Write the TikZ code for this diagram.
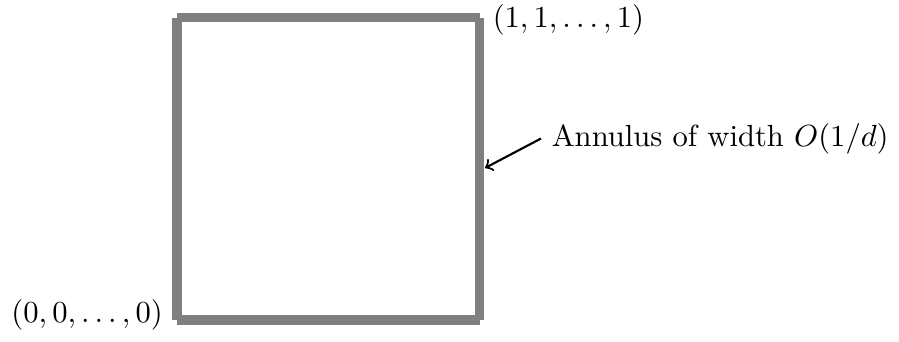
\documentclass[tikz,border=0pt]{standalone}
\begin{document}
\begin{tikzpicture}[x=0.327pt,y=-0.327pt,
  side/.style={draw=gray,line width=3pt,line cap=butt},
  lbl/.style={inner sep=0.3333em},
  pointer/.style={->,black,line width=0.7pt}]
\useasboundingbox (0,0) rectangle (899,341);
\coordinate (bl) at (177,320);
\coordinate (br) at (479.5,320);
\coordinate (tr) at (479.5,17.5);
\coordinate (tl) at (177,17.5);
\draw[side] (tl) -- (bl);
\draw[side] (tl) -- (tr);
\draw[side] (tr) -- (br);
\draw[side] (bl) -- (br);
\node[lbl,anchor=west] (one) at (482,19.5) {$(1,1,\ldots,1)$};
\node[lbl,anchor=east] (zero) at (173.5,314.5) {$(0,0,\ldots,0)$};
\node[lbl,anchor=west] (ann) at (541,138.5) {Annulus of width $O(1/d)$};
\coordinate (tip) at (485,168);
\draw[pointer] (ann.west) -- (tip);
\end{tikzpicture}
\end{document}
